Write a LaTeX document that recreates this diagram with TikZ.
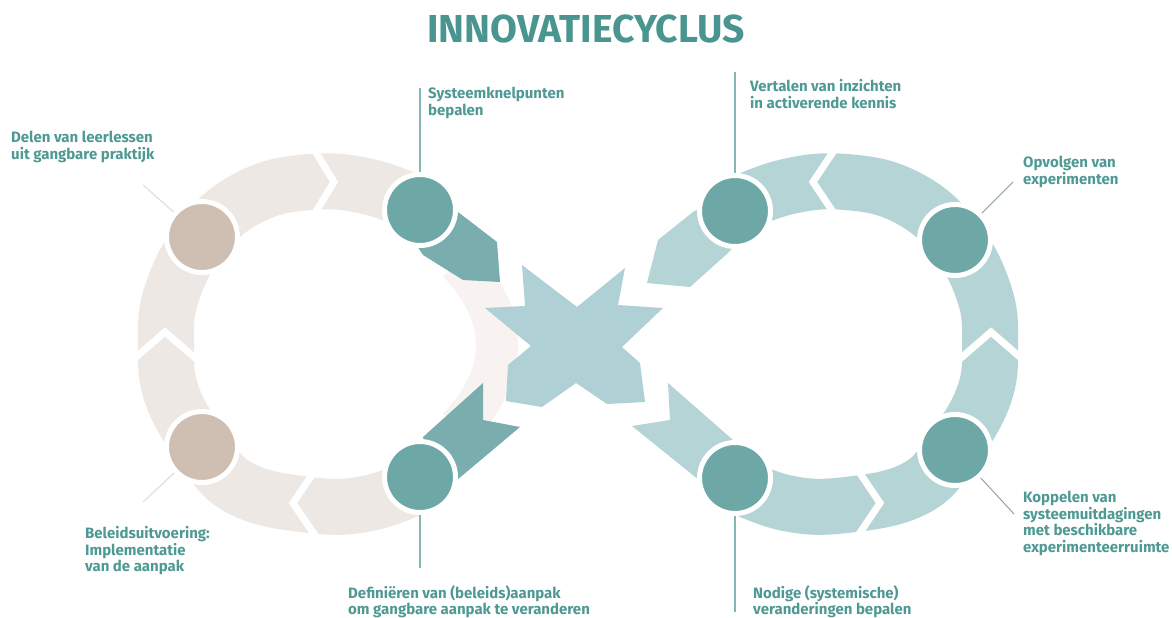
\documentclass[tikz,border=0pt]{standalone}
\usepackage{fontspec}
\setmainfont{Fira Sans}
\definecolor{txt}{HTML}{4E9993}
\definecolor{ttl}{HTML}{4A958F}
\definecolor{dotT}{HTML}{6DA8A7}
\definecolor{dotB}{HTML}{CFBFB3}
\definecolor{bandB}{HTML}{EEE8E4}
\definecolor{bandT}{HTML}{B5D4D6}
\definecolor{arrD}{HTML}{7AADAD}
\definecolor{starC}{HTML}{AFD0D4}
\definecolor{lineT}{HTML}{86B7B4}
\definecolor{lineG}{HTML}{8C9C9B}
\definecolor{lineB}{HTML}{E6DED9}
\definecolor{pinkC}{HTML}{F8F2F1}
\tikzset{
  lbl/.style={anchor=north west, inner sep=0pt, align=left, text=txt,
    font=\bfseries\fontsize{15}{16.7}\selectfont},
  dotnode/.style={circle, minimum size=71pt, inner sep=0pt, draw=white, line width=5pt},
  sepline/.style={white, line width=7pt, line join=miter},
  lead/.style={line width=1.2pt},
}
\begin{document}
\begin{tikzpicture}[x=1pt,y=-1pt]
\fill[white] (0,0) rectangle (1172,618);
\path[use as bounding box] (0,0) rectangle (1172,618);

% faint band behind star
\draw[pinkC, line width=42pt] (458,262) .. controls (510,315) and (510,375) .. (458,428);

% left loop band
\draw[bandB, line width=56pt] plot[smooth, tension=0.7] coordinates {(425,482) (370,503) (310,505) (240,488) (202,447) (172,395) (166,344) (172,293) (202,237) (250,197) (310,182) (370,187) (425,208)};
% right loop band
\draw[bandT, line width=56pt] plot[smooth, tension=0.7] coordinates {(731,482) (786,503) (846,505) (916,488) (954,447) (984,395) (990,344) (984,293) (954,237) (906,197) (846,182) (786,187) (731,208)};

% separators
\draw[sepline] (312,146) -- (334,182) -- (312,218);
\draw[sepline] (128,364) -- (165,332) -- (202,364);
\draw[sepline] (318,466) -- (293,503) -- (318,540);
\draw[sepline] (837,146) -- (813,182) -- (837,218);
\draw[sepline] (954,364) -- (991,332) -- (1028,364);
\draw[sepline] (855,466) -- (880,503) -- (855,540);

% inner arrows
\fill[arrD] (432,196) -- (458,212) -- (497,242) -- (500,282) -- (463,280) -- (423,255) -- (410,235) -- cycle;
\fill[arrD] (483,383) -- (483,420) -- (520,427) -- (457,480) -- (430,470) -- (423,437) -- cycle;
\fill[bandT] (722,196) -- (693,212) -- (658,240) -- (647,283) -- (690,287) -- (728,253) -- (745,235) -- cycle;
\fill[bandT] (668,383) -- (670,420) -- (632,426) -- (699,480) -- (728,470) -- (733,440) -- cycle;

% star
\fill[starC] (522,265) -- (577,307) -- (625,268) -- (618,305) -- (663,308) -- (622,347) -- (640,363) -- (645,402) -- (607,404) -- (576,383) -- (542,407) -- (506,401) -- (508,365) -- (531,346) -- (485,308) -- (525,306) -- cycle;

% dots
\node[dotnode, fill=dotB] (dTL) at (202,237) {};
\node[dotnode, fill=dotB] (dBL) at (202,447) {};
\node[dotnode, fill=dotT] (dSK) at (420,210) {};
\node[dotnode, fill=dotT] (dDF) at (420,477) {};
\node[dotnode, fill=dotT] (dVT) at (735,211) {};
\node[dotnode, fill=dotT] (dOP) at (955,240) {};
\node[dotnode, fill=dotT] (dKP) at (955,450) {};
\node[dotnode, fill=dotT] (dND) at (735,478) {};

% leader lines
\coordinate (cSK) at (420,88);
\coordinate (cDF) at (420,568);
\coordinate (cVT) at (735,72);
\coordinate (cND) at (735,612);
\coordinate (cOP) at (1013,182);
\coordinate (cKP) at (1014,514);
\coordinate (cTL) at (143,185);
\coordinate (cBL) at (143,502);
\draw[lead, lineT] (cSK) -- (dSK);
\draw[lead, lineT] (cDF) -- (dDF);
\draw[lead, lineT] (cVT) -- (dVT);
\draw[lead, lineT] (cND) -- (dND);
\draw[lead, lineG, line width=0.9pt] (cOP) -- (dOP);
\draw[lead, lineG, line width=0.9pt] (cKP) -- (dKP);
\draw[lead, lineB] (cTL) -- (dTL);
\draw[lead, lineB] (cBL) -- (dBL);

% title
\node[anchor=base, inner sep=0pt, text=ttl, font=\bfseries\fontsize{39}{44}\selectfont] (title) at (586,43) {INNOVATIECYCLUS};

% labels
\node[lbl] (tTL) at (11,131) {Delen van leerlessen\\uit gangbare praktijk};
\node[lbl] (tSK) at (428,87) {Systeemknelpunten\\bepalen};
\node[lbl] (tVT) at (750,79) {Vertalen van inzichten\\in activerende kennis};
\node[lbl] (tOP) at (1023,156) {Opvolgen van\\experimenten};
\node[lbl] (tBL) at (85,526) {Beleidsuitvoering:\\Implementatie\\van de aanpak};
\node[lbl] (tDF) at (348,585) {Definiëren van (beleids)aanpak\\om gangbare aanpak te veranderen};
\node[lbl] (tND) at (753,585) {Nodige (systemische)\\veranderingen bepalen};
\node[lbl] (tKP) at (1023,491) {Koppelen van\\systeemuitdagingen\\met beschikbare\\experimenteerruimte};
\end{tikzpicture}
\end{document}
